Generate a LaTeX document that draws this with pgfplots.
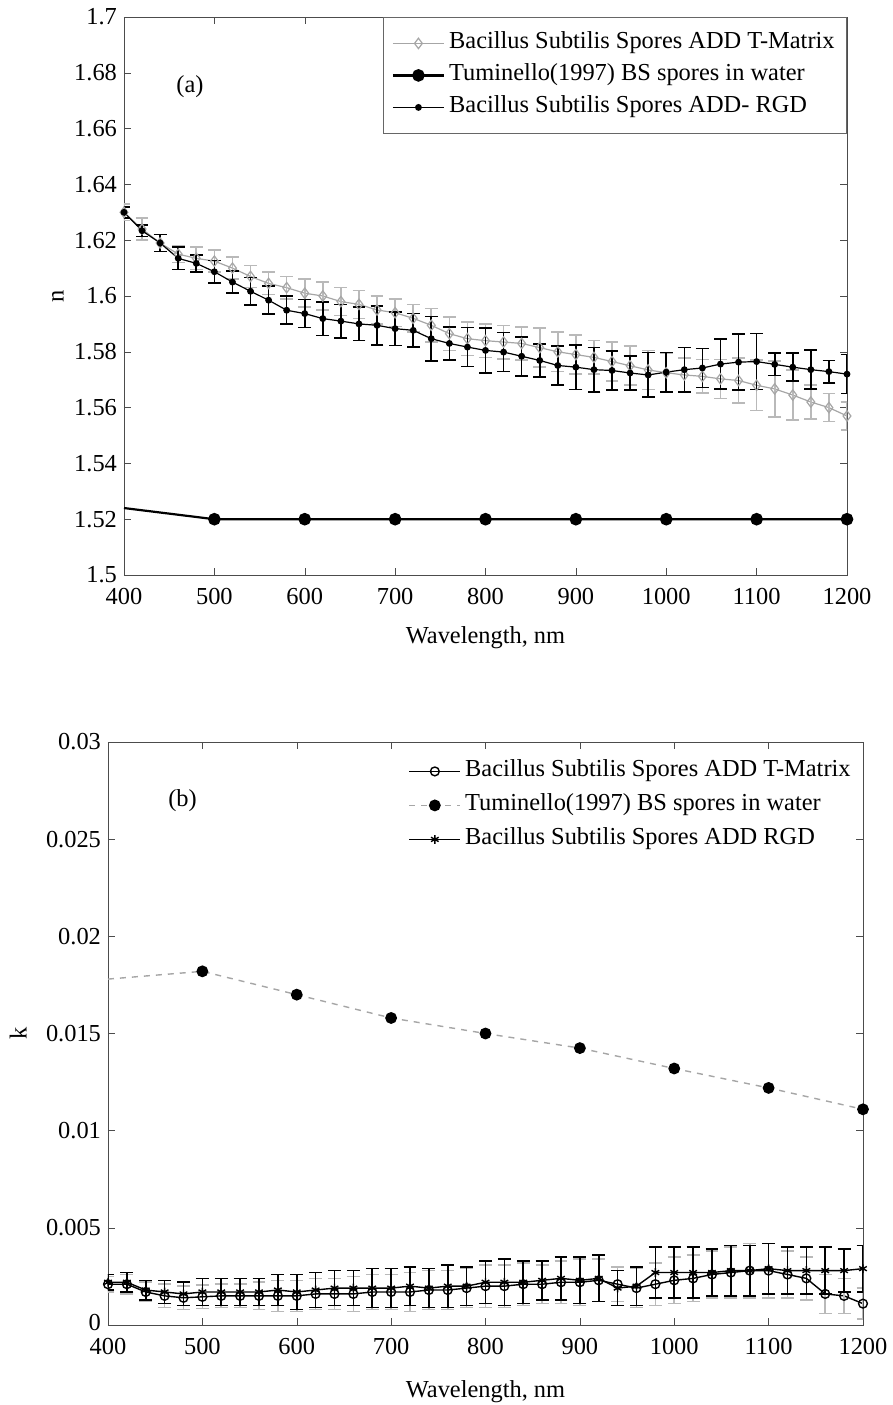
\documentclass[border=0pt]{standalone}
\usepackage{pgfplots}
\pgfplotsset{compat=1.18}
\usepackage{pgfplotstable}
\usepackage{fontspec}
\setmainfont{Liberation Serif}
\newcommand{\ff}{\fontsize{12.2}{14}\selectfont}

\pgfplotstableread{
x tm tme rgd rgde
400 1.630 0.003 1.630 0.002
420 1.624 0.004 1.6234 0.002
440 1.619 0.003 1.619 0.003
460 1.615 0.003 1.6135 0.004
480 1.6135 0.004 1.6117 0.003
500 1.6125 0.004 1.6087 0.004
520 1.610 0.004 1.605 0.004
540 1.607 0.004 1.6017 0.005
560 1.6045 0.004 1.5985 0.005
580 1.603 0.004 1.5949 0.005
600 1.601 0.005 1.5937 0.005
620 1.600 0.005 1.5919 0.006
640 1.598 0.005 1.591 0.006
660 1.597 0.005 1.590 0.006
680 1.595 0.005 1.5895 0.007
700 1.594 0.005 1.5883 0.006
720 1.592 0.005 1.5877 0.006
740 1.5895 0.006 1.5847 0.008
760 1.5865 0.006 1.583 0.006
780 1.5847 0.006 1.5817 0.007
800 1.584 0.006 1.5805 0.008
820 1.5835 0.006 1.5799 0.007
840 1.583 0.006 1.5784 0.007
860 1.5815 0.007 1.5769 0.006
880 1.580 0.007 1.5751 0.007
900 1.579 0.007 1.5745 0.008
920 1.578 0.006 1.5736 0.008
940 1.5765 0.007 1.5733 0.007
960 1.575 0.007 1.5724 0.006
980 1.5735 0.007 1.5717 0.008
1000 1.5725 0.007 1.5727 0.007
1020 1.5717 0.006 1.5736 0.008
1040 1.5712 0.006 1.5742 0.007
1060 1.5703 0.007 1.5756 0.009
1080 1.5697 0.008 1.5763 0.010
1100 1.568 0.009 1.5765 0.010
1120 1.5667 0.010 1.5755 0.004
1140 1.5645 0.009 1.5745 0.005
1160 1.562 0.006 1.5736 0.007
1180 1.560 0.005 1.5729 0.004
1200 1.557 0.005 1.572 0.007
}\topdata

\pgfplotstableread{
x n
400 1.524
500 1.520
600 1.520
700 1.520
800 1.520
900 1.520
1000 1.520
1100 1.520
1200 1.520
}\tumn

\pgfplotstableread{
x k
400 0.0178
500 0.0182
600 0.0170
700 0.0158
800 0.0150
900 0.01425
1000 0.0132
1100 0.0122
1200 0.0111
}\tumk

\pgfplotstableread{
x tm tme rgd rgde
400 0.0021 0.0004 0.0022 0.0004
420 0.0021 0.0005 0.0022 0.0005
440 0.0017 0.0005 0.0018 0.0005
460 0.0015 0.0006 0.0017 0.0006
480 0.0014 0.0006 0.0016 0.0006
500 0.00145 0.0006 0.0017 0.0007
520 0.0015 0.0006 0.0017 0.0007
540 0.0015 0.0006 0.0017 0.0007
560 0.0015 0.0007 0.0017 0.0007
580 0.0015 0.0008 0.0018 0.0008
600 0.0015 0.0008 0.0017 0.0009
620 0.0016 0.0008 0.0018 0.0009
640 0.0016 0.0008 0.0019 0.0009
660 0.0016 0.0009 0.0019 0.0009
680 0.0017 0.0009 0.0019 0.0010
700 0.0017 0.0009 0.0019 0.0010
720 0.0017 0.0010 0.0020 0.0010
740 0.0018 0.0010 0.0019 0.0010
760 0.0018 0.0010 0.0020 0.0011
780 0.0019 0.0010 0.0020 0.0010
800 0.0020 0.0011 0.0022 0.0011
820 0.0020 0.0011 0.0022 0.0012
840 0.0021 0.0011 0.0022 0.0011
860 0.0021 0.0010 0.0023 0.0010
880 0.0022 0.0011 0.0024 0.0011
900 0.0022 0.0012 0.0023 0.0012
920 0.0023 0.0011 0.0024 0.0012
940 0.0021 0.0009 0.0019 0.0009
960 0.0019 0.0010 0.0020 0.0010
980 0.0021 0.0011 0.0027 0.0013
1000 0.0023 0.0012 0.0027 0.0013
1020 0.0024 0.0012 0.0027 0.0013
1040 0.0026 0.0012 0.0027 0.0012
1060 0.0027 0.0013 0.0028 0.0013
1080 0.0028 0.0014 0.0028 0.0013
1100 0.0028 0.0014 0.0029 0.0013
1120 0.0026 0.0012 0.0028 0.0012
1140 0.0024 0.0011 0.0028 0.0012
1160 0.0016 0.0010 0.0028 0.0012
1180 0.0015 0.0009 0.0028 0.0011
1200 0.0011 0.0008 0.0029 0.0012
}\botdata

\pgfplotsset{
  mystyle/.style={
    scale only axis,
    xmin=400, xmax=1200,
    xtick={400,500,...,1200},
    tick align=inside,
    major tick length=3.5pt,
    axis line style={black!70},
    tick style={black!70},
    tick label style={font=\ff},
    label style={font=\ff},
    /pgf/number format/assume math mode=true,
    /pgf/number format/1000 sep={},
    xticklabel style={inner ysep=1pt, yshift=-5.5pt},
    yticklabel style={inner ysep=0.5pt},
    legend cell align=left,
    legend image code/.code={\draw[mark indices={2}] plot coordinates {(0cm,0cm) (0.45cm,0cm) (0.9cm,0cm)};},
  },
  ebar/.style={error bars/.cd, y dir=both, y explicit,
    error bar style={line width=0.8pt, #1},
    error mark options={rotate=90, mark size=3.2pt, line width=0.8pt, #1}},
}

\begin{document}
\begin{tikzpicture}
\useasboundingbox (0,0) rectangle (446.5pt,-702.5pt);

% ---------- (a) ----------
\begin{axis}[mystyle,
  at={(62pt,-8.5pt)}, anchor=north west,
  width=361.5pt, height=279pt,
  ymin=1.5, ymax=1.7,
  ytick={1.5,1.52,...,1.7},
  yticklabel style={/pgf/number format/fixed, /pgf/number format/precision=2},
  xlabel={Wavelength, nm},
  ylabel={n},
  xlabel style={at={(axis description cs:0.5,-0.113)}, anchor=center},
  ylabel style={at={(axis description cs:-0.0913,0.5)}, anchor=center, rotate=0},
  legend style={at={(1,1)}, anchor=north east, draw=black!60, font=\ff,
    inner xsep=4pt, inner ysep=5pt, row sep=0pt,
    nodes={inner xsep=2pt, inner ysep=1pt, text height=9.5pt, text depth=4.5pt}},
]
\addplot[gray!70, line width=0.6pt, mark=diamond, mark size=2.6pt,
  mark options={fill=white, draw=gray!70, solid},
  ebar={gray!55}]
  table[x=x, y=tm, y error=tme] {\topdata};
\addlegendentry{Bacillus Subtilis Spores ADD T-Matrix}
\addplot[black, line width=1.1pt, mark=*, mark size=2.6pt,
  mark indices={2,3,4,5,6,7,8,9}]
  table[x=x, y=n] {\tumn};
\addlegendentry{Tuminello(1997) BS spores in water}
\addplot[black, line width=0.6pt, mark=*, mark size=1.4pt,
  ebar={black}]
  table[x=x, y=rgd, y error=rgde] {\topdata};
\addlegendentry{Bacillus Subtilis Spores ADD- RGD}
\node[font=\ff] at (axis cs:473,1.675) {(a)};
\end{axis}

% ---------- (b) ----------
\begin{axis}[mystyle,
  at={(54pt,-371pt)}, anchor=north west,
  width=377.5pt, height=291.5pt,
  ymin=0, ymax=0.03,
  scaled y ticks=false,
  ytick={0,0.005,0.01,0.015,0.02,0.025,0.03},
  yticklabels={\raisebox{2.5pt}{0},0.005,0.01,0.015,0.02,0.025,0.03},
  xlabel={Wavelength, nm},
  ylabel={k},
  xlabel style={at={(axis description cs:0.5,-0.115)}, anchor=center},
  ylabel style={at={(axis description cs:-0.119,0.5)}, anchor=center, rotate=0},
  legend style={at={(1,1)}, anchor=north east, draw=none, fill=none, font=\ff,
    inner xsep=4pt, inner ysep=6pt, row sep=0pt,
    nodes={inner xsep=2pt, inner ysep=1pt, text height=10pt, text depth=5pt}},
]
\addplot[black, line width=0.7pt, mark=o, mark size=2.2pt,
  mark options={fill=white, draw=black, solid},
  ebar={gray!55}]
  table[x=x, y=tm, y error=tme] {\botdata};
\addlegendentry{Bacillus Subtilis Spores ADD T-Matrix}
\addplot[gray!70, dashed, line width=0.7pt, mark=*, mark size=2.6pt,
  mark options={solid, fill=black, draw=black},
  mark indices={2,3,4,5,6,7,8,9}]
  table[x=x, y=k] {\tumk};
\addlegendentry{Tuminello(1997) BS spores in water}
\addplot[black, line width=0.7pt, mark=asterisk, mark size=2.2pt,
  mark options={solid},
  ebar={black}]
  table[x=x, y=rgd, y error=rgde] {\botdata};
\addlegendentry{Bacillus Subtilis Spores ADD RGD}
\node[font=\ff] at (axis cs:479,0.027) {(b)};
\end{axis}
\end{tikzpicture}
\end{document}
